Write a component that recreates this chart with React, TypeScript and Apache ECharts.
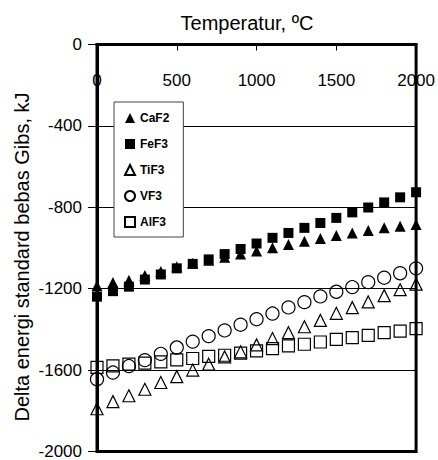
import React, { useEffect, useRef } from "react";
import * as echarts from "echarts";

const temperatures = [0, 100, 200, 300, 400, 500, 600, 700, 800, 900, 1000, 1100, 1200, 1300, 1400, 1500, 1600, 1700, 1800, 1900, 2000];
const caF2 = [-1185, -1170, -1158, -1135, -1115, -1092, -1075, -1060, -1046, -1030, -1015, -999, -983, -967, -953, -939, -926, -914, -901, -893, -885];
const feF3 = [-1239, -1212, -1190, -1155, -1130, -1100, -1078, -1056, -1030, -1005, -978, -950, -926, -901, -877, -852, -825, -801, -776, -751, -726];
const tiF3 = [-1790, -1755, -1726, -1694, -1661, -1632, -1600, -1571, -1535, -1510, -1476, -1445, -1416, -1387, -1356, -1321, -1293, -1265, -1234, -1205, -1178];
const vF3 = [-1645, -1612, -1580, -1551, -1520, -1489, -1460, -1433, -1405, -1377, -1350, -1322, -1292, -1266, -1238, -1215, -1192, -1168, -1146, -1124, -1100];
const alF3 = [-1587, -1579, -1571, -1566, -1560, -1550, -1543, -1533, -1527, -1517, -1506, -1494, -1481, -1473, -1462, -1449, -1440, -1429, -1416, -1408, -1396];

const xTitle = "Temperatur, ºC";
const yTitle = "Delta energi standard bebas Gibs, kJ";
const FONT = "'Liberation Sans', Arial, sans-serif";

const pairs = (vals: number[]) => temperatures.map((t, i) => [t, vals[i]]);

export default function App() {
  const ref = useRef<HTMLDivElement>(null);
  useEffect(() => {
    if (!ref.current) return;
    const chart = echarts.init(ref.current, null, { renderer: "svg" });
    const filled = { color: "#000", opacity: 1 };
    const open = { color: "rgba(0,0,0,0)", borderColor: "#000", borderWidth: 1.2, opacity: 1 };
    chart.setOption({
      animation: false,
      backgroundColor: "#fff",
      textStyle: { fontFamily: FONT },
      grid: {
        left: 97,
        right: 20,
        top: 44.5,
        bottom: 7.5,
        show: true,
        borderColor: "#000",
        borderWidth: 3,
        backgroundColor: "transparent",
      },
      xAxis: {
        type: "value",
        position: "top",
        min: 0,
        max: 2000,
        interval: 500,
        axisLine: { show: true, onZero: false, lineStyle: { color: "#000", width: 3 } },
        axisTick: { show: true, inside: true, length: 6, lineStyle: { color: "#000", width: 1 } },
        axisLabel: {
          inside: true,
          margin: 27,
          fontSize: 17,
          color: "#000",
          fontFamily: FONT,
          showMinLabel: true,
          showMaxLabel: true,
          formatter: (v: number) => String(v),
        },
        splitLine: { show: false },
      },
      yAxis: {
        type: "value",
        min: -2000,
        max: 0,
        interval: 400,
        axisLine: { show: true, onZero: false, lineStyle: { color: "#000", width: 3 } },
        axisTick: { show: true, length: 9, lineStyle: { color: "#000", width: 1 } },
        axisLabel: { margin: 15, fontSize: 17, color: "#000", fontFamily: FONT, formatter: (v: number) => String(v) },
        splitLine: { show: true, lineStyle: { color: "#000", width: 1 } },
      },
      legend: {
        orient: "vertical",
        left: 114,
        top: 102,
        padding: [10, 14, 9, 10],
        itemGap: 14,
        itemWidth: 10,
        itemHeight: 10,
        borderColor: "#444",
        borderWidth: 1,
        borderRadius: 0,
        backgroundColor: "#fff",
        selectedMode: false,
        textStyle: { fontSize: 12, fontWeight: "bold", color: "#000", fontFamily: FONT },
        data: ["CaF2", "FeF3", "TiF3", "VF3", "AlF3"],
      },
      graphic: [
        {
          type: "text",
          x: 247,
          y: 23,
          style: { text: xTitle, fontSize: 20, fontFamily: FONT, fill: "#000", align: "center", verticalAlign: "middle" },
        },
        {
          type: "text",
          x: 22,
          y: 257,
          rotation: Math.PI / 2,
          style: { text: yTitle, fontSize: 20, fontFamily: FONT, fill: "#000", align: "center", verticalAlign: "middle" },
        },
      ],
      series: [
        { name: "CaF2", type: "scatter", symbol: "triangle", symbolSize: 11, itemStyle: filled, data: pairs(caF2), z: 3 },
        { name: "FeF3", type: "scatter", symbol: "rect", symbolSize: 10, itemStyle: filled, data: pairs(feF3), z: 3 },
        { name: "TiF3", type: "scatter", symbol: "triangle", symbolSize: 12, itemStyle: open, data: pairs(tiF3), z: 3 },
        { name: "VF3", type: "scatter", symbol: "circle", symbolSize: 13, itemStyle: open, data: pairs(vF3), z: 3 },
        { name: "AlF3", type: "scatter", symbol: "rect", symbolSize: 12, itemStyle: open, data: pairs(alF3), z: 3 },
      ],
    });
    return () => chart.dispose();
  }, []);
  return <div ref={ref} style={{ position: "fixed", left: 0, top: 0, width: 438, height: 460 }} />;
}
